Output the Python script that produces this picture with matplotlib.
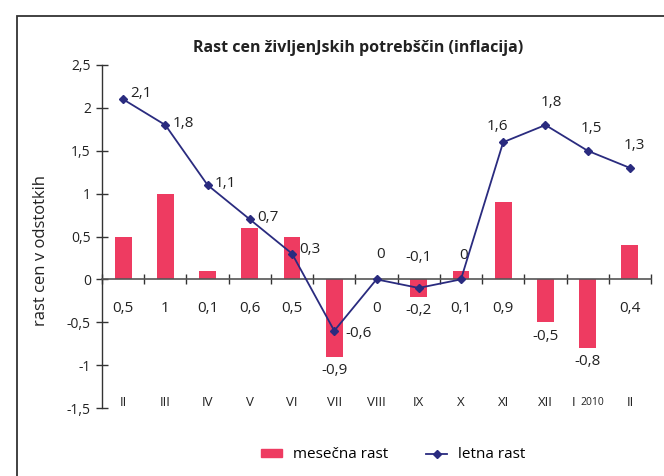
import matplotlib
matplotlib.use("Agg")
import matplotlib.pyplot as plt
import matplotlib.patches as mpatches
from matplotlib.lines import Line2D
import numpy as np

plt.rcParams['font.family'] = ['Open Sans', 'DejaVu Sans']

months = ["II", "III", "IV", "V", "VI", "VII", "VIII", "IX", "X", "XI", "XII", "I 2010", "II"]
monthly = [0.5, 1, 0.1, 0.6, 0.5, -0.9, 0, -0.2, 0.1, 0.9, -0.5, -0.8, 0.4]
annual = [2.1, 1.8, 1.1, 0.7, 0.3, -0.6, 0, -0.1, 0, 1.6, 1.8, 1.5, 1.3]
yticks = [-1.5, -1, -0.5, 0, 0.5, 1, 1.5, 2, 2.5]

bar_color = '#EE3B61'
line_color = '#2A2B7F'
text_color = '#222222'

def fmt(v):
    s = ('%g' % v).replace('.', ',')
    return s

fig = plt.figure(figsize=(6.64, 4.76), dpi=100)
ax = fig.add_axes([102/664, 1-408/476, 549/664, 343/476])

x = np.arange(len(months))
ax.bar(x, monthly, width=0.4, color=bar_color, zorder=2)
ax.plot(x, annual, color=line_color, lw=1.3, marker='D', markersize=4, zorder=4)

ax.set_xlim(-0.5, len(months) - 0.5)
ax.set_ylim(yticks[0], yticks[-1])

# y axis
ax.set_yticks(yticks)
ax.set_yticklabels([fmt(v) for v in yticks], fontsize=10, color=text_color)
ax.tick_params(axis='y', direction='inout', length=8, width=1, color='#333333', pad=4)
for s in ['top', 'right', 'bottom']:
    ax.spines[s].set_visible(False)
ax.spines['left'].set_color('#333333')
ax.spines['left'].set_linewidth(1)

# category labels at the bottom
ax.set_xticks(x)
labels = list(months)
labels[11] = ""
ax.set_xticklabels(labels, fontsize=9.5, color=text_color)
ax.tick_params(axis='x', length=0, pad=-9)
i2010 = months.index("I 2010")
ax.annotate("I", xy=(i2010, 0), xycoords=('data', 'axes fraction'), xytext=(-10, 9),
            textcoords='offset points', ha='center', va='top', fontsize=9.5, color=text_color)
ax.annotate("2010", xy=(i2010, 0), xycoords=('data', 'axes fraction'), xytext=(3, 8),
            textcoords='offset points', ha='center', va='top', fontsize=7.5, color=text_color)

# zero axis with boundary ticks
sec = ax.secondary_xaxis(0, transform=ax.transData)
sec.set_xticks(np.arange(-0.5, len(months), 1.0))
sec.set_xticklabels([])
sec.tick_params(direction='inout', length=7, width=1, color='#333333')
sec.spines['bottom'].set_color('#555555')
sec.spines['bottom'].set_linewidth(1.2)
sec.set_zorder(3)

ax.set_ylabel("rast cen v odstotkih", fontsize=12, color=text_color)
ax.yaxis.set_label_coords(-0.097, 0.46)

# bar labels
for xi, v in zip(x, monthly):
    if v >= 0:
        ax.annotate(fmt(v), xy=(xi, 0), xytext=(0, -21), textcoords='offset points',
                    ha='center', va='center', fontsize=11, color=text_color)
    else:
        ax.annotate(fmt(v), xy=(xi, v), xytext=(0, -10), textcoords='offset points',
                    ha='center', va='center', fontsize=11, color=text_color)

# line labels (offsets in points)
line_offsets = [(5, 4), (5, 1), (5, 1), (5, 1), (5, 3), (8, -2), (3, 18), (0, 22),
                (2, 17), (-4, 11), (4, 16), (3, 16), (3, 16)]
for xi, v, (dx, dy) in zip(x, annual, line_offsets):
    ha = 'left' if dy < 8 else 'center'
    ax.annotate(fmt(v), xy=(xi, v), xytext=(dx, dy), textcoords='offset points',
                ha=ha, va='center', fontsize=11, color=text_color)

# title
fig.text(358/664, 1-48/476, "Rast cen življenJskih potrebščin (inflacija)",
         ha='center', va='center', fontsize=11.5, fontweight='bold', color=text_color)

# outer frame
fig.patches.append(mpatches.Rectangle((17/664, -0.2), 1.2, 0.2 + 1-16/476,
                                      transform=fig.transFigure, fill=False,
                                      lw=1.3, ec='#333333'))

handles = [mpatches.Patch(color=bar_color, label='mesečna rast'),
           Line2D([0], [0], color=line_color, lw=1.3, marker='D', markersize=4,
                  label='letna rast')]
fig.legend(handles=handles, loc='center', bbox_to_anchor=(393/664, 1-455/476), ncol=2,
           frameon=False, fontsize=11, handlelength=1.4, handleheight=0.5,
           columnspacing=2.5, handletextpad=0.7)

fig.savefig("out.png", dpi=100)
